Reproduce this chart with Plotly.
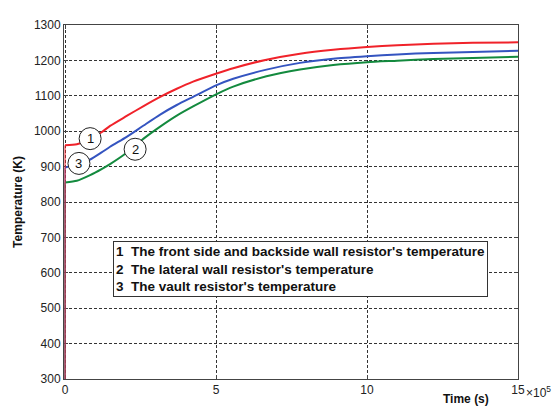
import plotly.graph_objects as go

# time in units of 1e5 s
t = [0, 0.0, 0.39, 0.83, 1.21, 1.49, 2.04, 2.6, 3.15, 3.7, 4.24, 5.02, 5.57, 6.67, 7.78, 8.88, 10, 11, 12.2, 13.5, 15]
red = [300, 960, 963, 978, 997, 1015, 1043, 1071, 1097, 1120, 1140, 1163, 1178, 1202, 1219, 1230, 1238, 1243, 1247, 1250, 1251]
blue = [300, 897, 907, 920, 940, 956, 984, 1016, 1047, 1074, 1097, 1130, 1148, 1174, 1193, 1205, 1212, 1217, 1221, 1224, 1227]
green = [300, 855, 860, 876, 893, 907, 939, 979, 1013, 1044, 1070, 1105, 1126, 1155, 1174, 1187, 1195, 1199, 1204, 1207, 1210]

label_text = ["1", "2", "3"]
label_t = [0.83, 2.32, 0.46]
label_T = [979, 949, 909]

legend_lines = [
    "1  The front side and backside wall resistor's temperature",
    "2  The lateral wall resistor's temperature",
    "3  The vault resistor's temperature",
]

x_ticks = [0, 5, 10, 15]
y_ticks = [300, 400, 500, 600, 700, 800, 900, 1000, 1100, 1200, 1300]

fig = go.Figure()
for vals, col in ((green, "#138a3e"), (blue, "#3454c0"), (red, "#f0222a")):
    # initial step at t = 0
    fig.add_trace(go.Scatter(x=t[:2], y=vals[:2], mode="lines",
                             line=dict(color=col, width=1)))
    fig.add_trace(go.Scatter(x=t[1:], y=vals[1:], mode="lines",
                             line=dict(color=col, width=2, shape="spline", smoothing=0.6)))

shapes = []
annotations = []
for txt, lx, ly in zip(label_text, label_t, label_T):
    shapes.append(dict(type="circle", xref="x", yref="y", xsizemode="pixel", ysizemode="pixel",
                       xanchor=lx, yanchor=ly, x0=-11, x1=11, y0=-11, y1=11,
                       fillcolor="white", line=dict(color="#222", width=1), layer="above"))
    annotations.append(dict(x=lx, y=ly, xref="x", yref="y", text=txt, showarrow=False,
                            font=dict(family="Arial", size=13, color="#111")))

annotations.append(dict(x=1.59, y=691, xref="x", yref="y", xanchor="left", yanchor="top",
                        text="<b>" + "<br>".join(legend_lines) + "</b>", align="left",
                        showarrow=False, bgcolor="white", bordercolor="#333", borderwidth=1,
                        borderpad=2, font=dict(family="Arial", size=13.5, color="#111")))
annotations.append(dict(x=15, y=300, xref="x", yref="y", xanchor="left", yanchor="top",
                        xshift=6, yshift=-3, text="×10<sup>5</sup>", showarrow=False,
                        font=dict(family="Arial", size=12, color="#222")))
annotations.append(dict(x=(466 - 65) / (554 - 65 - 36), y=-(401 - 381) / (381 - 25),
                        xref="paper", yref="paper", xanchor="center", yanchor="middle",
                        text="<b>Time (s)</b>", showarrow=False,
                        font=dict(family="Arial", size=12, color="#111")))

axis_common = dict(showgrid=True, gridcolor="#333", griddash="3px,2px", gridwidth=1,
                   showline=True, linecolor="#444", linewidth=1, mirror="ticks",
                   ticks="inside", ticklen=4, tickcolor="#444", zeroline=False,
                   layer="below traces",
                   tickfont=dict(family="Arial", size=12, color="#222"))

fig.update_layout(
    width=554, height=409,
    margin=dict(l=64, r=36, t=25, b=28),
    plot_bgcolor="white", paper_bgcolor="white",
    showlegend=False,
    shapes=shapes,
    annotations=annotations,
    xaxis=dict(range=[-0.035, 15], tickvals=x_ticks, ticktext=[str(v) for v in x_ticks], **axis_common),
    yaxis=dict(range=[300, 1300], tickvals=y_ticks,
               title=dict(text="<b>Temperature (K)</b>", standoff=8,
                          font=dict(family="Arial", size=12, color="#111")),
               **axis_common),
)

fig.write_html("out.html")
